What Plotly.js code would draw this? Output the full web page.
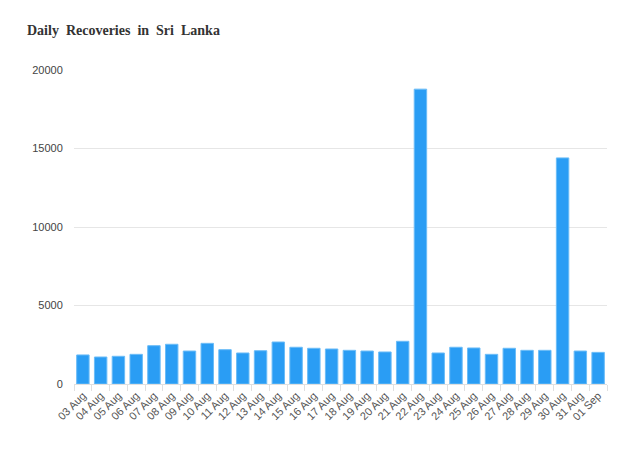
<!DOCTYPE html>
<html>
<head>
<meta charset="utf-8">
<script src="https://cdn.plot.ly/plotly-3.0.1.min.js"></script>
<style>html,body{margin:0;padding:0;background:#fff;}#chart{width:629px;height:462px;}</style>
</head>
<body>
<div id="chart"></div>
<script>
const dates = ["03 Aug","04 Aug","05 Aug","06 Aug","07 Aug","08 Aug","09 Aug","10 Aug","11 Aug","12 Aug","13 Aug","14 Aug","15 Aug","16 Aug","17 Aug","18 Aug","19 Aug","20 Aug","21 Aug","22 Aug","23 Aug","24 Aug","25 Aug","26 Aug","27 Aug","28 Aug","29 Aug","30 Aug","31 Aug","01 Sep"];
const recoveries = [1850,1720,1765,1890,2440,2530,2100,2590,2185,1975,2120,2675,2340,2275,2230,2145,2100,2040,2720,18780,1975,2340,2295,1890,2275,2145,2145,14400,2100,2015];
const yTicks = [0,5000,10000,15000,20000];

const trace = {
  type: "bar",
  x: dates,
  y: recoveries,
  marker: {color: "#2a9df4", line: {color: "#6bbcf7", width: 1}},
  hoverinfo: "x+y"
};
const layout = {
  width: 629, height: 462,
  margin: {l: 74, r: 22, t: 70, b: 78},
  paper_bgcolor: "#fff", plot_bgcolor: "#fff",
  bargap: 0.3,
  showlegend: false,
  title: {
    text: "<b>Daily\u00a0 Recoveries\u00a0 in\u00a0 Sri\u00a0 Lanka</b>",
    font: {family: "Liberation Serif, Times New Roman, serif", size: 14, color: "#333"},
    x: 27/629, xanchor: "left", xref: "container",
    y: 1 - 30/462, yanchor: "middle", yref: "container"
  },
  xaxis: {
    type: "category",
    tickangle: -45,
    tickfont: {family: "Liberation Sans, Arial, sans-serif", size: 11, color: "#555"},
    showline: true, linecolor: "#e0e0e0", linewidth: 1,
    ticks: "outside", tickcolor: "#e0e0e0", ticklen: 6, tickson: "boundaries",
    showgrid: false, zeroline: false
  },
  yaxis: {
    range: [0, 20000],
    tickvals: yTicks,
    ticktext: yTicks.map(String),
    tickfont: {family: "Liberation Sans, Arial, sans-serif", size: 11, color: "#444"},
    showgrid: true, gridcolor: "#e6e6e6", gridwidth: 1,
    zeroline: false, showline: false,
    ticks: "outside", ticklen: 8, tickcolor: "rgba(0,0,0,0)",
    automargin: false
  }
};
Plotly.newPlot("chart", [trace], layout, {displayModeBar: false, staticPlot: true});
</script>
</body>
</html>
